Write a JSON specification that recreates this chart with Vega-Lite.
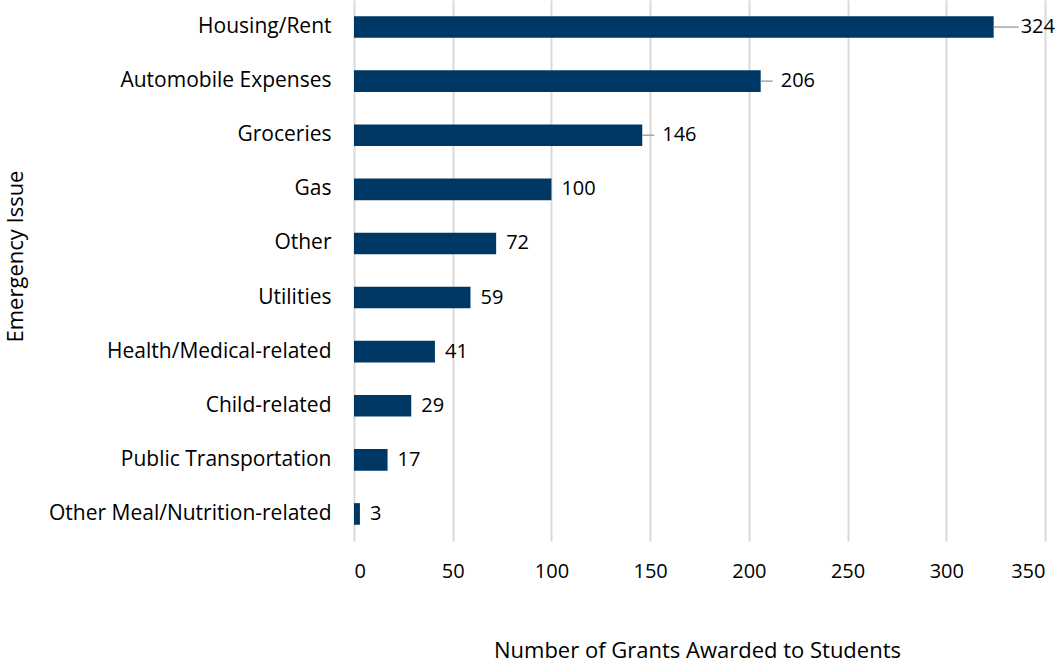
{
  "$schema": "https://vega.github.io/schema/vega-lite/v6.json",
  "width": 691,
  "height": 541,
  "autosize": {"type": "none"},
  "padding": {"left": 354, "top": 0, "right": 18, "bottom": 121},
  "background": "white",
  "config": {
    "view": {"stroke": null},
    "font": "Open Sans",
    "text": {"font": "Open Sans"}
  },
  "data": {
    "values": [
      {"issue": "Housing/Rent", "grants": 324},
      {"issue": "Automobile Expenses", "grants": 206},
      {"issue": "Groceries", "grants": 146},
      {"issue": "Gas", "grants": 100},
      {"issue": "Other", "grants": 72},
      {"issue": "Utilities", "grants": 59},
      {"issue": "Health/Medical-related", "grants": 41},
      {"issue": "Child-related", "grants": 29},
      {"issue": "Public Transportation", "grants": 17},
      {"issue": "Other Meal/Nutrition-related", "grants": 3}
    ]
  },
  "encoding": {
    "y": {
      "field": "issue",
      "type": "nominal",
      "sort": null,
      "scale": {"paddingInner": 0.6, "paddingOuter": 0.3},
      "axis": {
        "title": "Emergency Issue",
        "titleFont": "Open Sans",
        "titleFontSize": 22,
        "titleFontWeight": "normal",
        "titleColor": "#000000",
        "titleX": -339,
        "titleY": 256,
        "titleAngle": -90,
        "titleBaseline": "middle",
        "titleAlign": "center",
        "labelFont": "Open Sans",
        "labelFontSize": 21,
        "labelColor": "#000000",
        "labelPadding": 23,
        "labelLimit": 0,
        "ticks": false,
        "domain": false,
        "grid": false
      }
    },
    "x": {
      "field": "grants",
      "type": "quantitative",
      "scale": {"domain": [0, 350], "nice": false},
      "axis": {
        "title": "Number of Grants Awarded to Students",
        "titleFont": "Open Sans",
        "titleFontSize": 22,
        "titleFontWeight": "normal",
        "titleColor": "#000000",
        "titleX": 343,
        "titleY": 116,
        "titleBaseline": "alphabetic",
        "titleAlign": "center",
        "values": [0, 50, 100, 150, 200, 250, 300, 350],
        "labelFont": "Open Sans",
        "labelFontSize": 20,
        "labelColor": "#000000",
        "labelPadding": 20,
        "ticks": false,
        "domain": false,
        "grid": true,
        "gridColor": "#d9d9d9",
        "gridWidth": 2
      }
    }
  },
  "layer": [
    {"mark": {"type": "bar", "color": "#003865"}},
    {
      "transform": [{"filter": "datum.grants == 324"}],
      "mark": {"type": "rule", "color": "#a6a6a6", "strokeWidth": 1.5, "x2Offset": 25},
      "encoding": {"x2": {"field": "grants"}}
    },
    {
      "transform": [{"filter": "datum.grants == 206 || datum.grants == 146"}],
      "mark": {"type": "rule", "color": "#a6a6a6", "strokeWidth": 1.5, "x2Offset": 12},
      "encoding": {"x2": {"field": "grants"}}
    },
    {
      "transform": [{"filter": "datum.grants == 324"}],
      "mark": {"type": "text", "align": "left", "baseline": "middle", "dx": 27, "fontSize": 20, "color": "#000000"},
      "encoding": {"text": {"field": "grants"}}
    },
    {
      "transform": [{"filter": "datum.grants == 206 || datum.grants == 146"}],
      "mark": {"type": "text", "align": "left", "baseline": "middle", "dx": 20, "fontSize": 20, "color": "#000000"},
      "encoding": {"text": {"field": "grants"}}
    },
    {
      "transform": [{"filter": "datum.grants != 324 && datum.grants != 206 && datum.grants != 146"}],
      "mark": {"type": "text", "align": "left", "baseline": "middle", "dx": 10, "fontSize": 20, "color": "#000000"},
      "encoding": {"text": {"field": "grants"}}
    }
  ]
}
